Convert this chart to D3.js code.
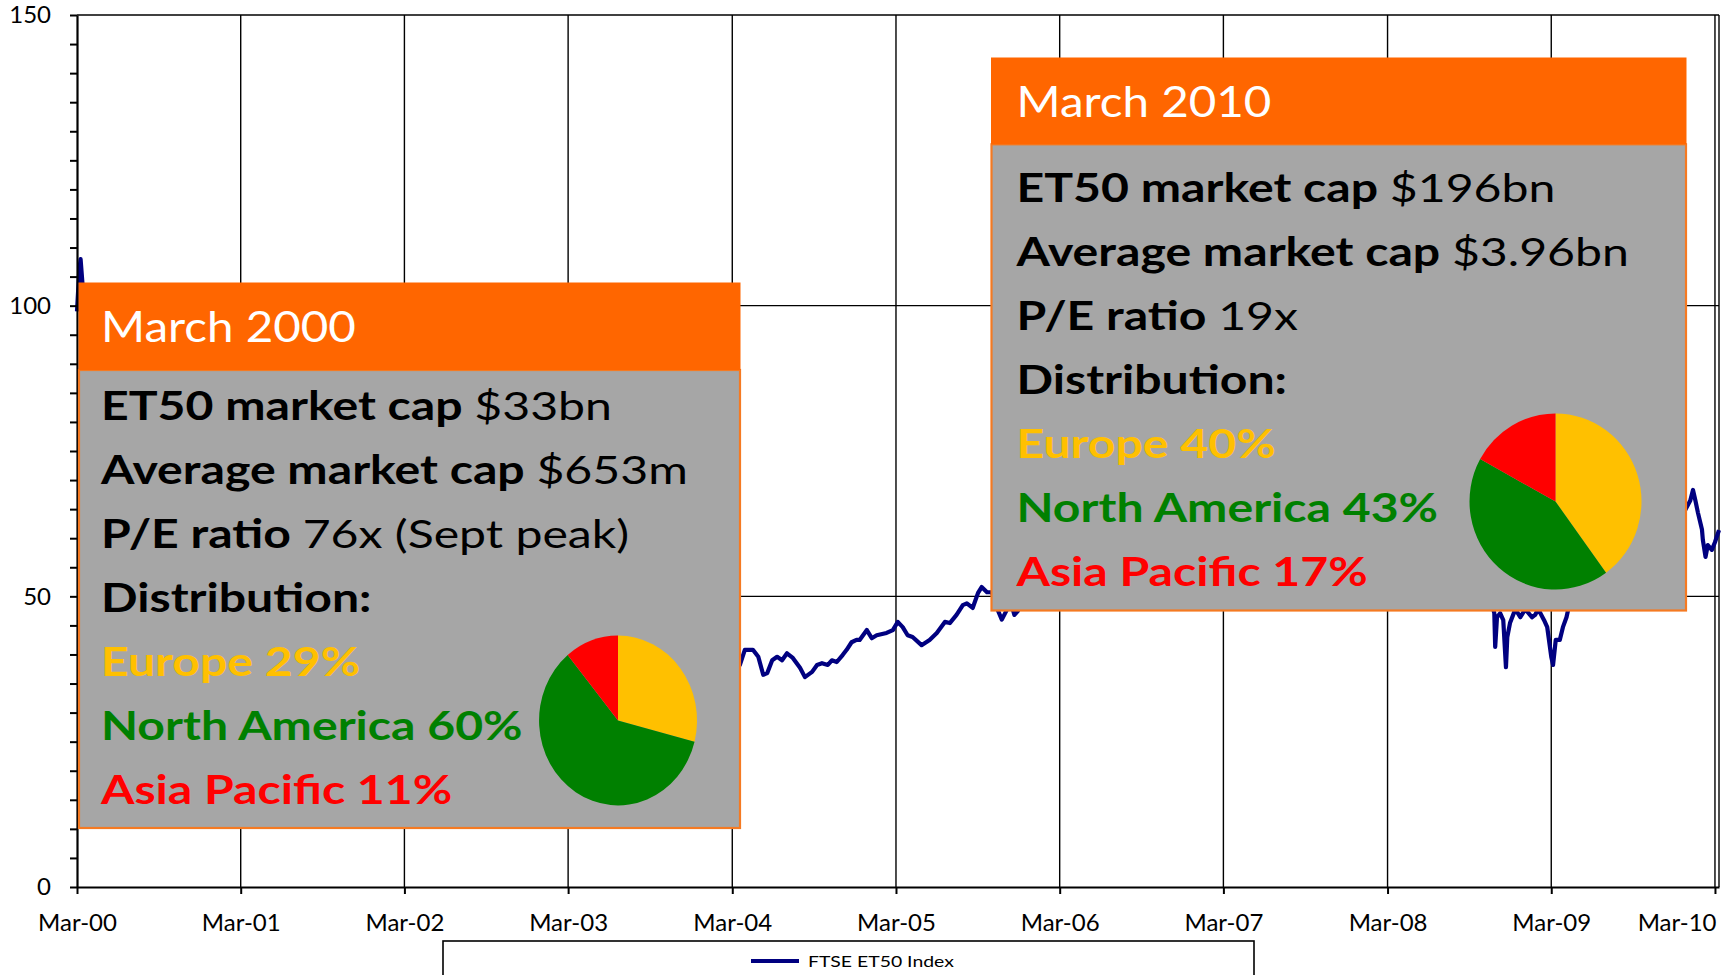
<!DOCTYPE html>
<html><head><meta charset="utf-8">
<script src="https://cdn.jsdelivr.net/npm/d3@7"></script>
<style>
html,body{margin:0;padding:0;background:#fff;}
svg{display:block;font-family:Lato,"Open Sans",sans-serif;}
</style></head>
<body>
<svg id="chart" width="1736" height="975"></svg>
<script>
// ---------------- DATA ----------------
const seriesName = "FTSE ET50 Index";
const dates = [
"2000-03-01","2000-03-06","2000-03-09","2000-03-13","2000-03-17","2000-03-27","2000-04-10","2000-04-24","2000-05-15","2000-06-12",
"2000-07-10","2000-08-14","2000-09-11","2000-10-16","2000-11-13","2000-12-11","2001-01-15","2001-02-12","2001-03-12","2001-04-16",
"2001-05-14","2001-06-11","2001-07-16","2001-08-13","2001-09-21","2001-10-15","2001-11-12","2001-12-10","2002-01-14","2002-02-11",
"2002-03-11","2002-04-15","2002-05-13","2002-06-17","2002-07-22","2002-08-12","2002-09-16","2002-10-09","2002-11-11","2002-12-16",
"2003-01-13","2003-02-10","2003-03-12","2003-04-14","2003-05-12","2003-06-16","2003-07-14","2003-08-11","2003-09-15","2003-10-13",
"2003-11-10","2003-12-15","2004-01-12","2004-02-09","2004-03-08",
"2004-03-18","2004-03-29","2004-04-16","2004-04-28","2004-05-09","2004-05-18","2004-05-29","2004-06-09","2004-06-20","2004-07-01",
"2004-07-14","2004-07-30","2004-08-10","2004-08-26","2004-09-06","2004-09-17","2004-09-30","2004-10-09","2004-10-20","2004-11-02",
"2004-11-11","2004-11-22","2004-12-03","2004-12-10","2004-12-26","2005-01-06","2005-01-17","2005-02-08","2005-02-22","2005-03-05",
"2005-03-16","2005-03-27","2005-04-07","2005-04-27","2005-05-15","2005-05-31","2005-06-18","2005-06-29","2005-07-14","2005-07-28",
"2005-08-06","2005-08-19","2005-08-31","2005-09-08","2005-09-20","2005-10-01","2005-10-12","2005-10-23","2005-11-02","2005-11-12",
"2005-11-20","2005-11-28","2005-12-08",
"2006-01-16","2006-02-13","2006-03-13","2006-04-17","2006-05-15","2006-06-12","2006-07-17","2006-08-14","2006-09-11","2006-10-16",
"2006-11-13","2006-12-11","2007-01-15","2007-02-12","2007-03-12","2007-04-16","2007-05-14","2007-06-11","2007-07-16","2007-08-13",
"2007-09-17","2007-10-15","2007-11-12","2007-12-10","2008-01-14","2008-02-11","2008-03-17","2008-04-14","2008-05-12","2008-06-16",
"2008-07-14","2008-08-11","2008-09-15","2008-10-06","2008-10-16","2008-10-22",
"2008-10-25","2008-10-27","2008-10-31","2008-11-07","2008-11-14","2008-11-20","2008-11-23","2008-11-29","2008-12-11","2008-12-22",
"2009-01-02","2009-01-17","2009-01-24","2009-01-31","2009-02-13","2009-02-20","2009-03-01","2009-03-05","2009-03-11","2009-03-20",
"2009-03-27","2009-04-04","2009-04-10",
"2009-04-20","2009-05-04","2009-05-18","2009-06-01","2009-06-15","2009-07-06","2009-07-20","2009-08-03","2009-08-17","2009-09-01",
"2009-09-15","2009-10-01","2009-10-15","2009-11-02","2009-11-16","2009-12-01","2009-12-15",
"2009-12-25","2010-01-05","2010-01-11","2010-01-16","2010-01-22","2010-01-31","2010-02-02","2010-02-08","2010-02-13","2010-02-22",
"2010-03-01","2010-03-10"
];
const values = [
99,106,108,104,100,95,86,80,72,77,
75,80,83,71,63,57,60,52,45,46,
48,44,40,36,27,31,34,35,33,30,
32,30,28,24,21,23,21,18,22,21,
21,19,20,23,26,28,29,31,32,34,
35,36,39,41,38,
38.2,40.8,40.8,39.6,36.5,36.8,39.0,39.6,39.0,40.2,
39.4,37.7,36.1,37.0,38.2,38.5,38.2,39.0,38.7,39.9,
40.8,42.1,42.5,42.5,44.2,42.8,43.3,43.7,44.2,45.6,
44.7,43.3,43.0,41.6,42.5,43.7,45.6,45.4,46.8,48.5,
48.8,48.0,50.6,51.6,50.7,50.7,48.0,46.0,47.5,49.0,
46.8,47.5,51,
55,58,61,64,57,53,52,55,56,60,
63,65,67,70,68,74,78,80,85,78,
86,96,92,99,84,81,75,79,86,82,
74,72,62,53,49,48,
47.1,41.3,46.4,47.1,45.9,37.8,43.0,45.4,47.8,46.4,
47.8,46.4,46.8,47.8,45.9,44.7,39.6,38.2,42.5,42.5,
44.7,46.4,48.5,
52,55,57,60,58,56,59,62,63,62,
66,65,68,63,66,64,63,
64.9,66.5,68.3,66.6,64.4,61.5,59.7,56.8,58.8,58.0,
59.3,61.4
];
const xTickDates = ["2000-03-01","2001-03-01","2002-03-01","2003-03-01","2004-03-01","2005-03-01","2006-03-01","2007-03-01","2008-03-01","2009-03-01","2010-03-01"];
const xTickLabels = ["Mar-00","Mar-01","Mar-02","Mar-03","Mar-04","Mar-05","Mar-06","Mar-07","Mar-08","Mar-09","Mar-10"];
const yMajorTicks = [0,50,100,150];

const regionNames = ["Europe","North America","Asia Pacific"];
const regionColors = ["#FFC000","#008000","#FF0000"];
const dist2000 = [29,60,11];
const dist2010 = [40,43,17];
const boxTitles = ["March 2000","March 2010"];
const statLabels = ["ET50 market cap","Average market cap","P/E ratio"];
const stats2000 = ["$33bn","$653m","76x (Sept peak)"];
const stats2010 = ["$196bn","$3.96bn","19x"];
const distLabel = "Distribution:";

// ---------------- CHART ----------------
const svg = d3.select("#chart");
const parse = d3.timeParse("%Y-%m-%d");
const series = dates.map((d,i)=>({date:parse(d), value:values[i]}));
const tickDates = xTickDates.map(parse);

const X0 = 77, X1 = 1719, Y0 = 887, Y1 = 15;
const x = d3.scaleTime().domain([parse("2000-03-01"), parse("2010-03-10")]).range([X0, X1]);
const y = d3.scaleLinear().domain([0,150]).range([Y0, Y1]);

// gridlines
const grid = svg.append("g").attr("stroke","#000").attr("stroke-width",1.4);
grid.selectAll(".vg").data(tickDates.slice(1)).join("line")
  .attr("x1",d=>x(d)).attr("x2",d=>x(d)).attr("y1",Y1).attr("y2",Y0);
grid.selectAll(".hg").data(yMajorTicks.filter(v=>v>0)).join("line")
  .attr("x1",X0).attr("x2",X1).attr("y1",d=>y(d)).attr("y2",d=>y(d));
grid.append("line").attr("x1",X1).attr("x2",X1).attr("y1",Y1).attr("y2",Y0);

// line
svg.append("path").datum(series)
  .attr("fill","none").attr("stroke","#000080").attr("stroke-width",4.2)
  .attr("stroke-linejoin","round")
  .attr("d", d3.line().x(d=>x(d.date)).y(d=>y(d.value)));

// axes
const yAxis = d3.axisLeft(y).tickValues(d3.range(0,151,5)).tickSize(7).tickSizeOuter(0).tickPadding(19)
  .tickFormat(d => yMajorTicks.includes(d) ? d : "");
const gy = svg.append("g").attr("transform",`translate(${X0},0)`).call(yAxis);
gy.select(".domain").attr("stroke-width",2.2);
gy.selectAll(".tick line").attr("stroke-width",2);
gy.selectAll("text").attr("font-size",24).attr("fill","#000").attr("font-family","Lato");

const xAxis = d3.axisBottom(x).tickValues(tickDates).tickSize(7).tickSizeOuter(0).tickPadding(20)
  .tickFormat((d,i)=>xTickLabels[i]);
const gx = svg.append("g").attr("transform",`translate(0,${Y0})`).call(xAxis);
gx.select(".domain").attr("stroke-width",2.2);
gx.selectAll(".tick line").attr("stroke-width",2);
gx.selectAll("text").attr("font-size",24).attr("fill","#000").attr("font-family","Lato");
// keep the last label inside the chart, as the original does
gx.selectAll(".tick").filter((d,i)=>i===xTickLabels.length-1).select("text")
  .attr("text-anchor","end").attr("x", 1716 - x(tickDates[tickDates.length-1]));

// ---------------- ANNOTATION BOXES ----------------
const boxes = [
  {title:boxTitles[0], stats:stats2000, dist:dist2000,
   x0:79, x1:740, y0:282.5, yh:370, y1:828, tx:101, tb:342, b0:420, step:64, cx:618, cy:720.5, rx:79, ry:85},
  {title:boxTitles[1], stats:stats2010, dist:dist2010,
   x0:991.5, x1:1686, y0:57.5, yh:144.3, y1:610.5, tx:1016.5, tb:116.7, b0:201.7, step:64.05, cx:1555.5, cy:501.5, rx:86, ry:88}
];

const BODY_FS = 39.5, HEAD_FS = 42;
function measure(parts, fs){
  const t = svg.append("text").attr("font-size",fs).attr("x",0).attr("y",-100);
  parts.forEach(p=>t.append("tspan").attr("font-weight",p[1]).text(p[0]));
  const w = t.node().getComputedTextLength(); t.remove(); return w;
}
const bodySX = 511 / measure([[statLabels[0]+" ","bold"],[stats2000[0],"normal"]], BODY_FS);
const headSX = 255 / measure([[boxTitles[0],"normal"]], HEAD_FS);

function addLine(g, bx, by, parts, fs, sx){
  const t = g.append("text").attr("transform",`translate(${bx},${by}) scale(${sx},1)`).attr("font-size",fs);
  parts.forEach(p=>t.append("tspan").attr("font-weight",p[1]).attr("fill",p[2]).text(p[0]));
}

boxes.forEach(b=>{
  const g = svg.append("g");
  g.append("rect").attr("x",b.x0).attr("y",b.yh).attr("width",b.x1-b.x0).attr("height",b.y1-b.yh)
    .attr("fill","#A6A6A6").attr("stroke","#F57A22").attr("stroke-width",2.2);
  g.append("rect").attr("x",b.x0-0.5).attr("y",b.y0).attr("width",b.x1-b.x0+1).attr("height",b.yh-b.y0)
    .attr("fill","#FF6600");
  addLine(g, b.tx, b.tb, [[b.title,"normal","#FFFFFF"]], HEAD_FS, headSX);
  b.stats.forEach((s,i)=>{
    addLine(g, b.tx, b.b0 + i*b.step, [[statLabels[i]+" ","bold","#000"],[s,"normal","#000"]], BODY_FS, bodySX);
  });
  addLine(g, b.tx, b.b0 + 3*b.step, [[distLabel,"bold","#000"]], BODY_FS, bodySX);
  b.dist.forEach((v,i)=>{
    addLine(g, b.tx, b.b0 + (4+i)*b.step, [[`${regionNames[i]} ${v}%`,"bold",regionColors[i]]], BODY_FS, bodySX);
  });
  const arcs = d3.pie().sort(null).value(d=>d)(b.dist);
  const arc = d3.arc().innerRadius(0).outerRadius(1);
  const pg = g.append("g").attr("transform",`translate(${b.cx},${b.cy}) scale(${b.rx},${b.ry})`);
  pg.selectAll("path").data(arcs).join("path").attr("d",arc).attr("fill",(d,i)=>regionColors[i]);
});

// ---------------- LEGEND ----------------
const lg = svg.append("g");
lg.append("rect").attr("x",443).attr("y",941).attr("width",811).attr("height",60)
  .attr("fill","#fff").attr("stroke","#000").attr("stroke-width",1.6);
lg.append("line").attr("x1",751).attr("x2",799).attr("y1",961).attr("y2",961)
  .attr("stroke","#000080").attr("stroke-width",4);
const legSX = 146 / measure([[seriesName,"normal"]], 16);
addLine(lg, 808, 967, [[seriesName,"normal","#000"]], 16, legSX);
</script>
</body></html>
